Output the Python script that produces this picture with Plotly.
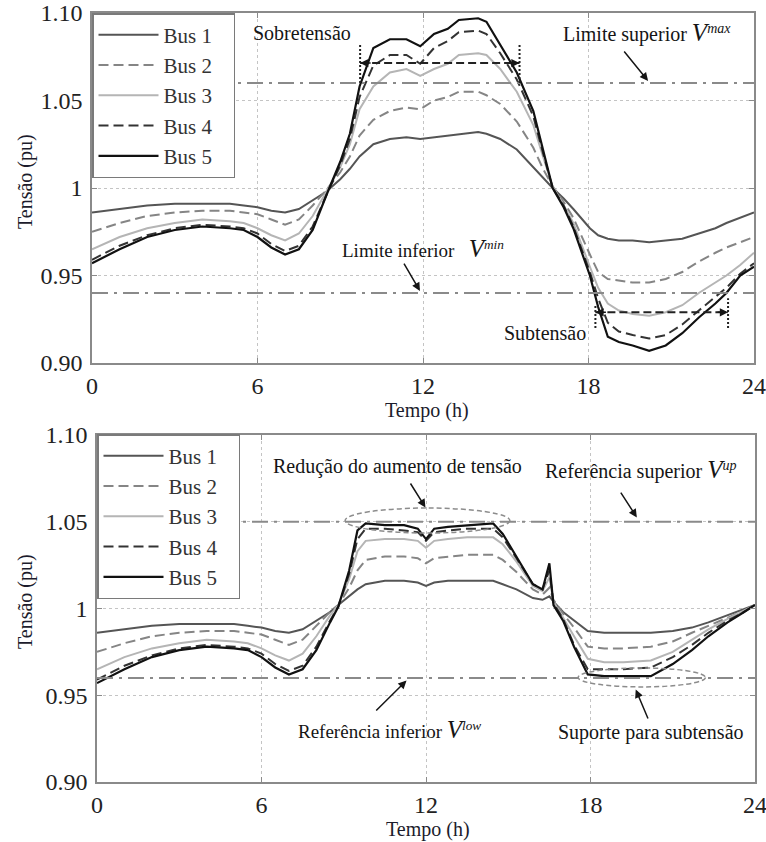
import plotly.graph_objects as go

FONT = "Liberation Serif, Times New Roman, serif"

# ---------------- data : upper panel (without control) ----------------
hours_top = [0, 1, 2, 3, 4, 5, 5.5, 6, 6.5, 7, 7.5, 8, 8.5, 9, 9.35, 9.7, 10.2, 10.8,
             11.4, 11.9, 12.4, 12.9, 13.3, 14.0, 14.3, 14.8, 15.4, 16.0, 16.35, 16.7,
             17.1, 17.45, 18.05, 18.35, 18.7, 19.1, 19.6, 20.2, 20.8, 21.4, 22.0, 22.6,
             23.0, 23.5, 24]
bus1_top = [0.986, 0.988, 0.990, 0.991, 0.991, 0.991, 0.990, 0.989, 0.987, 0.986, 0.988,
            0.993, 0.998, 1.005, 1.011, 1.018, 1.025, 1.028, 1.029, 1.028, 1.029, 1.030,
            1.031, 1.032, 1.031, 1.028, 1.022, 1.012, 1.006, 1.000, 0.994, 0.988, 0.977,
            0.973, 0.971, 0.970, 0.970, 0.969, 0.970, 0.971, 0.974, 0.977, 0.980, 0.983,
            0.986]
bus2_top = [0.975, 0.980, 0.984, 0.986, 0.987, 0.987, 0.986, 0.985, 0.982, 0.979, 0.982,
            0.990, 0.999, 1.009, 1.018, 1.030, 1.039, 1.044, 1.046, 1.045, 1.050, 1.052,
            1.055, 1.055, 1.053, 1.048, 1.038, 1.023, 1.011, 1.001, 0.992, 0.983, 0.962,
            0.952, 0.948, 0.947, 0.946, 0.946, 0.948, 0.952, 0.958, 0.963, 0.966, 0.969,
            0.972]
bus3_top = [0.965, 0.972, 0.977, 0.980, 0.982, 0.981, 0.980, 0.977, 0.973, 0.970, 0.974,
            0.984, 0.998, 1.012, 1.025, 1.045, 1.058, 1.066, 1.068, 1.064, 1.068, 1.071,
            1.076, 1.077, 1.076, 1.068, 1.055, 1.036, 1.018, 1.001, 0.990, 0.980, 0.955,
            0.943, 0.934, 0.930, 0.928, 0.927, 0.929, 0.933, 0.940, 0.946, 0.950, 0.956,
            0.963]
bus4_top = [0.959, 0.967, 0.973, 0.977, 0.979, 0.978, 0.977, 0.974, 0.968, 0.964, 0.967,
            0.978, 0.996, 1.013, 1.028, 1.052, 1.070, 1.076, 1.076, 1.071, 1.080, 1.084,
            1.089, 1.090, 1.088, 1.077, 1.062, 1.041, 1.020, 1.000, 0.990, 0.978, 0.952,
            0.937, 0.923, 0.918, 0.916, 0.914, 0.916, 0.922, 0.930, 0.938, 0.943, 0.951,
            0.957]
bus5_top = [0.957, 0.965, 0.972, 0.976, 0.978, 0.977, 0.976, 0.972, 0.966, 0.962, 0.965,
            0.976, 0.996, 1.015, 1.031, 1.058, 1.080, 1.085, 1.085, 1.081, 1.088, 1.091,
            1.096, 1.097, 1.095, 1.082, 1.066, 1.044, 1.022, 1.000, 0.989, 0.977, 0.950,
            0.932, 0.915, 0.912, 0.910, 0.907, 0.910, 0.917, 0.926, 0.934, 0.940, 0.950,
            0.955]

# ---------------- data : lower panel (with control) ----------------
hours_bot = [0, 1, 2, 3, 4, 5, 5.5, 6, 6.5, 7, 7.5, 8, 8.5, 8.8, 9.2, 9.5, 9.8, 10.5,
             11.2, 11.7, 12.0, 12.3, 12.8, 13.5, 14.45, 14.8, 15.3, 15.9, 16.25, 16.5,
             16.65, 17.0, 17.4, 17.9, 18.5, 19.2, 20.2, 21.0, 21.7, 22.3, 23.0, 23.5, 24]
bus1_bot = [0.986, 0.988, 0.990, 0.991, 0.991, 0.991, 0.990, 0.989, 0.987, 0.986, 0.988,
            0.993, 0.998, 1.002, 1.007, 1.011, 1.014, 1.016, 1.016, 1.015, 1.013, 1.015,
            1.016, 1.016, 1.016, 1.014, 1.011, 1.006, 1.005, 1.007, 1.004, 0.998, 0.993,
            0.987, 0.986, 0.986, 0.986, 0.987, 0.989, 0.992, 0.996, 0.999, 1.002]
bus2_bot = [0.975, 0.980, 0.984, 0.986, 0.987, 0.987, 0.986, 0.985, 0.982, 0.979, 0.982,
            0.990, 0.998, 1.002, 1.012, 1.022, 1.028, 1.030, 1.030, 1.029, 1.026, 1.029,
            1.030, 1.031, 1.031, 1.028, 1.021, 1.011, 1.008, 1.012, 1.005, 0.997, 0.989,
            0.978, 0.977, 0.977, 0.978, 0.981, 0.986, 0.990, 0.995, 0.998, 1.002]
bus3_bot = [0.965, 0.972, 0.977, 0.980, 0.982, 0.981, 0.980, 0.977, 0.973, 0.970, 0.974,
            0.984, 0.996, 1.002, 1.017, 1.033, 1.039, 1.040, 1.040, 1.039, 1.035, 1.039,
            1.040, 1.041, 1.041, 1.037, 1.027, 1.013, 1.010, 1.018, 1.004, 0.995, 0.984,
            0.971, 0.969, 0.969, 0.970, 0.975, 0.982, 0.988, 0.994, 0.998, 1.002]
bus4_bot = [0.959, 0.967, 0.973, 0.977, 0.979, 0.978, 0.977, 0.974, 0.968, 0.964, 0.967,
            0.978, 0.993, 1.001, 1.020, 1.040, 1.046, 1.046, 1.045, 1.044, 1.039, 1.044,
            1.045, 1.046, 1.046, 1.041, 1.029, 1.014, 1.011, 1.022, 1.003, 0.994, 0.979,
            0.965, 0.965, 0.965, 0.966, 0.972, 0.979, 0.986, 0.993, 0.997, 1.002]
bus5_bot = [0.957, 0.965, 0.972, 0.976, 0.978, 0.977, 0.976, 0.972, 0.966, 0.962, 0.965,
            0.976, 0.992, 1.001, 1.022, 1.045, 1.049, 1.048, 1.048, 1.046, 1.040, 1.046,
            1.047, 1.048, 1.049, 1.043, 1.030, 1.014, 1.011, 1.026, 1.002, 0.993, 0.978,
            0.962, 0.961, 0.961, 0.961, 0.968, 0.976, 0.984, 0.992, 0.997, 1.002]

bus_names = ["Bus 1", "Bus 2", "Bus 3", "Bus 4", "Bus 5"]
top_series = [bus1_top, bus2_top, bus3_top, bus4_top, bus5_top]
bot_series = [bus1_bot, bus2_bot, bus3_bot, bus4_bot, bus5_bot]

# reference levels
v_max, v_min = 1.06, 0.94
v_up, v_low = 1.05, 0.96

x_ticks = [0, 6, 12, 18, 24]
x_tick_labels = ["0", "6", "12", "18", "24"]
y_ticks = [0.90, 0.95, 1.00, 1.05, 1.10]
y_tick_labels = ["0.90", "0.95", "1", "1.05", "1.10"]

# ---------------- styles ----------------
bus_styles = [
    dict(color="#555555", width=2, dash="solid"),
    dict(color="#858585", width=2, dash="10px,5px"),
    dict(color="#b5b5b5", width=2, dash="solid"),
    dict(color="#333333", width=2, dash="10px,5px"),
    dict(color="#111111", width=2.2, dash="solid"),
]
PAD = "\u00a0\u00a0\u00a0"  # invisible trailing room so the legend box is as wide as the original

fig = go.Figure()
for name, ys, st in zip(bus_names, top_series, bus_styles):
    fig.add_trace(go.Scatter(x=hours_top, y=ys, mode="lines", name=name + PAD, line=st,
                             xaxis="x", yaxis="y", legend="legend"))
for name, ys, st in zip(bus_names, bot_series, bus_styles):
    fig.add_trace(go.Scatter(x=hours_bot, y=ys, mode="lines", name=name + PAD, line=st,
                             xaxis="x2", yaxis="y2", legend="legend2"))

W, H = 766, 842


def px_x(p):
    return p / W


def px_y(p):
    return 1 - p / H


axis_common = dict(
    showgrid=True, griddash="dot", gridcolor="#c4c4c4", gridwidth=1,
    showline=True, linecolor="#8a8a8a", linewidth=1.5, mirror="ticks",
    ticks="inside", ticklen=5, tickcolor="#8a8a8a", zeroline=False,
    automargin=False,
    tickfont=dict(family=FONT, size=24, color="#222222"),
)

xa = dict(axis_common, range=[0, 24], tickvals=x_ticks, ticktext=x_tick_labels,
          ticklabelstandoff=0, ticklabeloverflow="allow")
ya = dict(axis_common, range=[0.90, 1.10], tickvals=y_ticks, ticktext=y_tick_labels,
          ticklabelstandoff=3)

legend_common = dict(
    font=dict(family=FONT, size=21, color="#333333"),
    bgcolor="white", bordercolor="#7a7a7a", borderwidth=1.5,
    xanchor="left", yanchor="top", itemwidth=60,
)

fig.update_layout(
    width=W, height=H,
    margin=dict(l=0, r=0, t=0, b=0, pad=0, autoexpand=False),
    paper_bgcolor="white", plot_bgcolor="white",
    xaxis=dict(xa, domain=[px_x(92), px_x(754)], anchor="y"),
    yaxis=dict(ya, domain=[px_y(363), px_y(13)], anchor="x"),
    xaxis2=dict(xa, domain=[px_x(97), px_x(755)], anchor="y2"),
    yaxis2=dict(ya, domain=[px_y(782), px_y(435)], anchor="x2"),
    legend=dict(legend_common, x=px_x(92), y=px_y(13)),
    legend2=dict(legend_common, x=px_x(97), y=px_y(434)),
    showlegend=True,
)

# ---------------- reference lines ----------------
limit_line = dict(color="#8a8a8a", width=2, dash="16px,6px,3px,6px")
for yv, xr, yr in [(v_max, "x", "y"), (v_min, "x", "y"), (v_up, "x2", "y2"), (v_low, "x2", "y2")]:
    fig.add_shape(type="line", xref=xr, yref=yr, x0=0, x1=24, y0=yv, y1=yv,
                  line=limit_line, layer="above")

# over/under-voltage interval markers (upper panel)
mark_dash = dict(color="#222222", width=2, dash="8px,4px")
mark_dot = dict(color="#222222", width=2, dash="2px,2px")
over_span = [9.72, 15.5]
over_level = 1.0714
under_span = [18.25, 23.06]
under_level = 0.929
fig.add_shape(type="line", xref="x", yref="y", x0=over_span[0], x1=over_span[1],
              y0=over_level, y1=over_level, line=mark_dash)
fig.add_shape(type="line", xref="x", yref="y", x0=over_span[0], x1=over_span[0],
              y0=1.060, y1=1.082, line=mark_dot)
fig.add_shape(type="line", xref="x", yref="y", x0=over_span[1], x1=over_span[1],
              y0=1.060, y1=1.082, line=mark_dot)
fig.add_shape(type="line", xref="x", yref="y", x0=under_span[0], x1=under_span[1],
              y0=under_level, y1=under_level, line=mark_dash)
fig.add_shape(type="line", xref="x", yref="y", x0=under_span[0], x1=under_span[0],
              y0=0.920, y1=0.933, line=mark_dot)
fig.add_shape(type="line", xref="x", yref="y", x0=under_span[1], x1=under_span[1],
              y0=0.920, y1=0.937, line=mark_dot)

# ellipses (lower panel)
ell_line = dict(color="#8c8c8c", width=1.5, dash="5px,3px")
fig.add_shape(type="circle", xref="x2", yref="y2", x0=9.05, x1=15.06, y0=1.0435, y1=1.0579,
              line=ell_line)
fig.add_shape(type="circle", xref="x2", yref="y2", x0=17.55, x1=22.19, y0=0.9548, y1=0.9657,
              line=ell_line)

# ---------------- annotations ----------------
txt_font = dict(family=FONT, size=20, color="#151515")
anns = []


def text(x, y, s, xr, yr, size=20):
    anns.append(dict(x=x, y=y, xref=xr, yref=yr, text=s, showarrow=False,
                     font=dict(txt_font, size=size), xanchor="center", yanchor="middle"))


def arrow(xt, yt, xa_, ya_, xr, yr):
    anns.append(dict(x=xt, y=yt, xref=xr, yref=yr, ax=xa_, ay=ya_, axref=xr, ayref=yr,
                     text="", showarrow=True, arrowhead=2, arrowsize=1.1, arrowwidth=1.5,
                     arrowcolor="#151515"))


def head(xt, yt, dx, xr, yr):
    anns.append(dict(x=xt, y=yt, xref=xr, yref=yr, ax=dx, ay=0, text="", showarrow=True,
                     arrowhead=2, arrowsize=1.1, arrowwidth=1.5, arrowcolor="#151515"))


V = '<i><span style="font-size:25px">V</span></i>'
text(7.61, 1.0886, "Sobretensão", "x", "y")
text(20.12, 1.0886, "Limite superior " + V + "<sup><i>max</i></sup>", "x", "y")
arrow(20.16, 1.0612, 19.25, 1.0789, "x", "y")
text(12.0, 0.9657, "Limite inferior\u00a0\u00a0\u00a0" + V + "<sup><i>min</i></sup>", "x", "y", 19)
arrow(11.89, 0.9412, 11.28, 0.9577, "x", "y")
text(16.43, 0.9171, "Subtensão", "x", "y")
head(over_span[0], over_level, 12, "x", "y")
head(over_span[1], over_level, -12, "x", "y")
head(under_span[0], under_level, 12, "x", "y")
head(under_span[1], under_level, -12, "x", "y")

text(10.97, 1.0816, "Redução do aumento de tensão", "x2", "y2")
arrow(11.98, 1.0582, 11.40, 1.0729, "x2", "y2")
text(19.83, 1.0804, "Referência superior " + V + "<sup><i>up</i></sup>", "x2", "y2")
arrow(19.69, 1.0525, 19.07, 1.0677, "x2", "y2")
text(10.68, 0.930, "Referência inferior\u00a0" + V + "<sup><i>low</i></sup>", "x2", "y2", 19)
arrow(11.29, 0.9585, 10.13, 0.9403, "x2", "y2")
text(20.2, 0.9288, "Suporte para subtensão", "x2", "y2")
arrow(19.65, 0.9533, 20.12, 0.9357, "x2", "y2")

# axis titles
title_font = dict(family=FONT, size=20, color="#1c1c2c")
for (xp, yp) in [(427, 410), (428, 829)]:
    anns.append(dict(x=px_x(xp), y=px_y(yp), xref="paper", yref="paper", text="Tempo (h)",
                     showarrow=False, font=title_font, xanchor="center", yanchor="middle"))
for (xp, yp) in [(25, 182), (25, 602)]:
    anns.append(dict(x=px_x(xp), y=px_y(yp), xref="paper", yref="paper", text="Tensão (pu)",
                     showarrow=False, font=title_font, textangle=-90,
                     xanchor="center", yanchor="middle"))

fig.update_layout(annotations=anns)

fig.write_html(
    "out.html",
    config={"displayModeBar": False},
    post_script="document.body.style.margin='0';"
                "document.documentElement.style.overflow='hidden';",
)
